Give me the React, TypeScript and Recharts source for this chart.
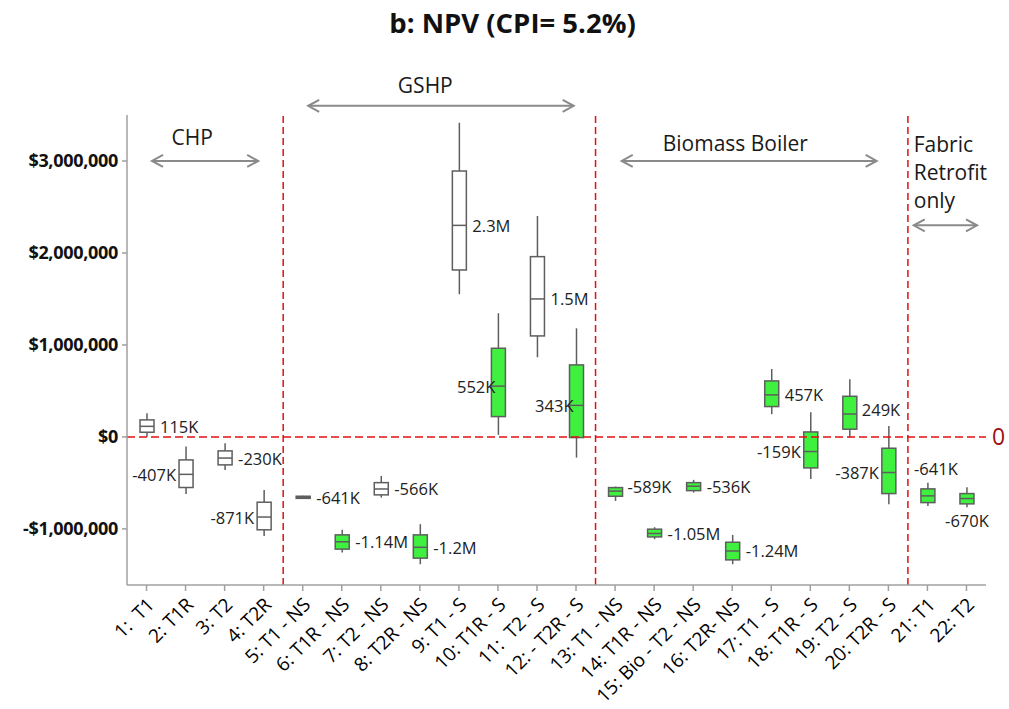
import React from "react"
import {
  ComposedChart,
  Bar,
  XAxis,
  YAxis,
  ReferenceLine,
  ReferenceDot,
} from "recharts"

// Case names along the x axis
const categories = [
  "1:  T1", "2: T1R", "3: T2", "4: T2R",
  "5: T1 - NS", "6: T1R - NS", "7: T2 - NS", "8: T2R - NS",
  "9: T1 - S", "10: T1R - S", "11:  T2 - S", "12: - T2R - S",
  "13: T1 - NS", "14: T1R - NS", "15: Bio - T2 - NS", "16: T2R- NS",
  "17: T1 - S", "18: T1R - S", "19: T2 - S", "20: T2R - S",
  "21: T1", "22: T2",
]

// NPV distribution per case, in $
const whiskerLow = [
  3e3, -620e3, -359e3, -1076e3,
  -672e3, -1258e3, -660e3, -1384e3,
  1551e3, 22e3, 866e3, -225e3,
  -696e3, -1112e3, -605e3, -1384e3,
  247e3, -457e3, -7e3, -732e3,
  -750e3, -764e3,
]
const quartile1 = [
  51e3, -550e3, -304e3, -1010e3,
  -668e3, -1220e3, -630e3, -1318e3,
  1815e3, 221e3, 1098e3, -7e3,
  -645e3, -1087e3, -584e3, -1337e3,
  330e3, -337e3, 84e3, -616e3,
  -714e3, -728e3,
]
const medians = [
  115e3, -407e3, -230e3, -871e3,
  -656e3, -1140e3, -566e3, -1200e3,
  2300e3, 552e3, 1500e3, 343e3,
  -589e3, -1050e3, -536e3, -1240e3,
  457e3, -159e3, 249e3, -387e3,
  -641e3, -670e3,
]
const quartile3 = [
  185e3, -250e3, -152e3, -710e3,
  -645e3, -1065e3, -497e3, -1065e3,
  2891e3, 964e3, 1960e3, 783e3,
  -551e3, -1003e3, -497e3, -1145e3,
  609e3, 54e3, 442e3, -123e3,
  -565e3, -616e3,
]
const whiskerHigh = [
  258e3, -105e3, -68e3, -576e3,
  -641e3, -1010e3, -424e3, -949e3,
  3416e3, 1345e3, 2402e3, 1181e3,
  -540e3, -982e3, -467e3, -1065e3,
  739e3, 268e3, 627e3, 120e3,
  -497e3, -547e3,
]
const medianLabels = [
  "115K", "-407K", "-230K", "-871K",
  "-641K", "-1.14M", "-566K", "-1.2M",
  "2.3M", "552K", "1.5M", "343K",
  "-589K", "-1.05M", "-536K", "-1.24M",
  "457K", "-159K", "249K", "-387K",
  "-641K", "-670K",
]
const yTicks = [-1e6, 0, 1e6, 2e6, 3e6]

// which boxes are drawn green, and where their value label sits
const greenCases = [
  false, false, false, false,
  false, true, false, true,
  false, true, false, true,
  true, true, true, true,
  true, true, true, true,
  true, true,
]
const labelSide = [
  "right", "left", "right", "left",
  "right", "right", "right", "right",
  "right", "inside", "right", "inside",
  "above-right", "right", "right", "right",
  "right", "left", "above-right", "left",
  "top", "bottom",
]

// technology group annotations (x in case units, y in $)
const groupArrows = [
  { x1: 1.14, x2: 3.86, y: 3.0e6 },
  { x1: 5.14, x2: 11.94, y: 3.6e6 },
  { x1: 13.17, x2: 19.7, y: 3.0e6 },
  { x1: 20.65, x2: 22.27, y: 2.3e6 },
]
const groupTexts = [
  { x: 2.17, y: 3.26e6, text: "CHP", anchor: "middle" },
  { x: 8.14, y: 3.83e6, text: "GSHP", anchor: "middle" },
  { x: 16.08, y: 3.2e6, text: "Biomass Boiler", anchor: "middle" },
  { x: 20.65, y: 3.185e6, text: "Fabric", anchor: "start" },
  { x: 20.65, y: 2.88e6, text: "Retrofit", anchor: "start" },
  { x: 20.65, y: 2.576e6, text: "only", anchor: "start" },
]
const groupSplits = [4.5, 12.5, 20.5]

const chartData = categories.map((name, i) => ({
  pos: i + 1,
  name,
  range: [whiskerLow[i], whiskerHigh[i]],
  low: whiskerLow[i],
  q1: quartile1[i],
  med: medians[i],
  q3: quartile3[i],
  high: whiskerHigh[i],
  label: medianLabels[i],
  green: greenCases[i],
  side: labelSide[i],
}))

const FONT = "'Open Sans', 'Noto Sans', sans-serif"
const BOX_STROKE = "#5e5e5e"
const ARROW = "#8a8a8a"

const fmtDollar = (v: number) => {
  const s = "$" + Math.abs(v).toLocaleString("en-US")
  return v < 0 ? "-" + s : s
}

function BoxShape(props: any) {
  const { x, y, width, height, payload } = props
  const { low, high, q1, q3, med, label, green, side } = payload
  // map values inside the whisker range onto the bar's pixel span
  const py = (v: number) => y + (height * (high - v)) / (high - low)
  const cx = x + width / 2
  const yMed = py(med)
  let lx = cx + 13
  let ly = yMed
  let anchor = "start"
  if (side === "left") { lx = cx - 10; anchor = "end" }
  if (side === "inside") { lx = cx - 3; anchor = "end" }
  if (side === "above-right") { lx = cx + 12; ly = yMed - 5 }
  if (side === "top") { lx = cx + 8; ly = py(high) - 14; anchor = "middle" }
  if (side === "bottom") { lx = cx; ly = py(low) + 13; anchor = "middle" }
  return (
    <g>
      <line x1={cx} x2={cx} y1={py(high)} y2={py(q3)} stroke={BOX_STROKE} strokeWidth={1.5} />
      <line x1={cx} x2={cx} y1={py(q1)} y2={py(low)} stroke={BOX_STROKE} strokeWidth={1.5} />
      <rect
        x={x}
        y={py(q3)}
        width={width}
        height={Math.max(py(q1) - py(q3), 0)}
        fill={green ? "#3ff03f" : "#ffffff"}
        stroke={BOX_STROKE}
        strokeWidth={1.5}
      />
      <line x1={x} x2={x + width} y1={yMed} y2={yMed} stroke={BOX_STROKE} strokeWidth={1.5} />
      <text
        x={lx}
        y={ly}
        textAnchor={anchor as any}
        dominantBaseline="central"
        fontSize={16.5}
        fontFamily={FONT}
        fill="#222"
      >
        {label}
      </text>
    </g>
  )
}

function ArrowShape(props: any) {
  const { x1, y1, x2, y2 } = props
  const h = 11
  const w = 6
  return (
    <g stroke={ARROW} strokeWidth={2} fill="none">
      <line x1={x1} y1={y1} x2={x2} y2={y2} />
      <polyline points={`${x1 + h},${y1 - w} ${x1},${y1} ${x1 + h},${y1 + w}`} />
      <polyline points={`${x2 - h},${y2 - w} ${x2},${y2} ${x2 - h},${y2 + w}`} />
    </g>
  )
}

function XTick(props: any) {
  const { x, y, payload } = props
  const name = categories[payload.value - 1]
  return (
    <g transform={`translate(${x + 4},${y + 8})`}>
      <text
        x={0}
        y={0}
        textAnchor="end"
        dominantBaseline="central"
        transform="rotate(-45)"
        fontSize={19}
        fontFamily={FONT}
        fill="#000"
        style={{ whiteSpace: "pre" }}
      >
        {name}
      </text>
    </g>
  )
}

export default function App() {
  return (
    <div
      style={{
        position: "absolute",
        left: 0,
        top: 0,
        width: 1009,
        height: 709,
        background: "#fff",
        fontFamily: FONT,
      }}
    >
      <div
        style={{
          position: "absolute",
          top: 4,
          left: 8,
          width: 1009,
          textAlign: "center",
          fontWeight: 700,
          fontSize: 27.5,
          color: "#111",
        }}
      >
        b: NPV (CPI= 5.2%)
      </div>
      <ComposedChart
        width={1009}
        height={709}
        data={chartData}
        margin={{ top: 115, right: 23, bottom: 0, left: 0 }}
      >
        <XAxis
          dataKey="pos"
          type="number"
          domain={[0.5, 22.5]}
          ticks={categories.map((_, i) => i + 1)}
          interval={0}
          height={124}
          stroke="#a0a0a0"
          strokeWidth={1.5}
          tickSize={6}
          tick={<XTick />}
        />
        <YAxis
          type="number"
          domain={[-1.61e6, 3.5e6]}
          ticks={yTicks}
          width={127}
          stroke="#a0a0a0"
          strokeWidth={1.5}
          tickSize={5}
          tickMargin={4}
          tickFormatter={fmtDollar}
          tick={{ fill: "#111", fontSize: 18, fontWeight: 700, fontFamily: FONT, letterSpacing: -0.3 }}
        />
        <ReferenceLine
          y={0}
          stroke="#e01010"
          strokeWidth={1.5}
          strokeDasharray="8 4"
          label={{ value: "0", position: "right", fill: "#a01010", fontSize: 23, fontFamily: FONT, offset: 6 }}
        />
        {groupSplits.map((gx) => (
          <ReferenceLine key={gx} x={gx} stroke="#e01010" strokeWidth={1.5} strokeDasharray="7 4" />
        ))}
        <Bar
          dataKey="range"
          barSize={14}
          shape={<BoxShape />}
          isAnimationActive={false}
        />
        {groupArrows.map((a, i) => (
          <ReferenceLine
            key={"arrow" + i}
            segment={[{ x: a.x1, y: a.y }, { x: a.x2, y: a.y }]}
            ifOverflow="visible"
            shape={<ArrowShape />}
          />
        ))}
        {groupTexts.map((t, i) => (
          <ReferenceDot
            key={"text" + i}
            x={t.x}
            y={t.y}
            ifOverflow="visible"
            shape={(p: any) => (
              <text
                x={p.cx}
                y={p.cy}
                textAnchor={t.anchor as any}
                dominantBaseline="central"
                fontSize={21}
                fontFamily={FONT}
                fill="#1a1a1a"
              >
                {t.text}
              </text>
            )}
          />
        ))}
      </ComposedChart>
    </div>
  )
}
